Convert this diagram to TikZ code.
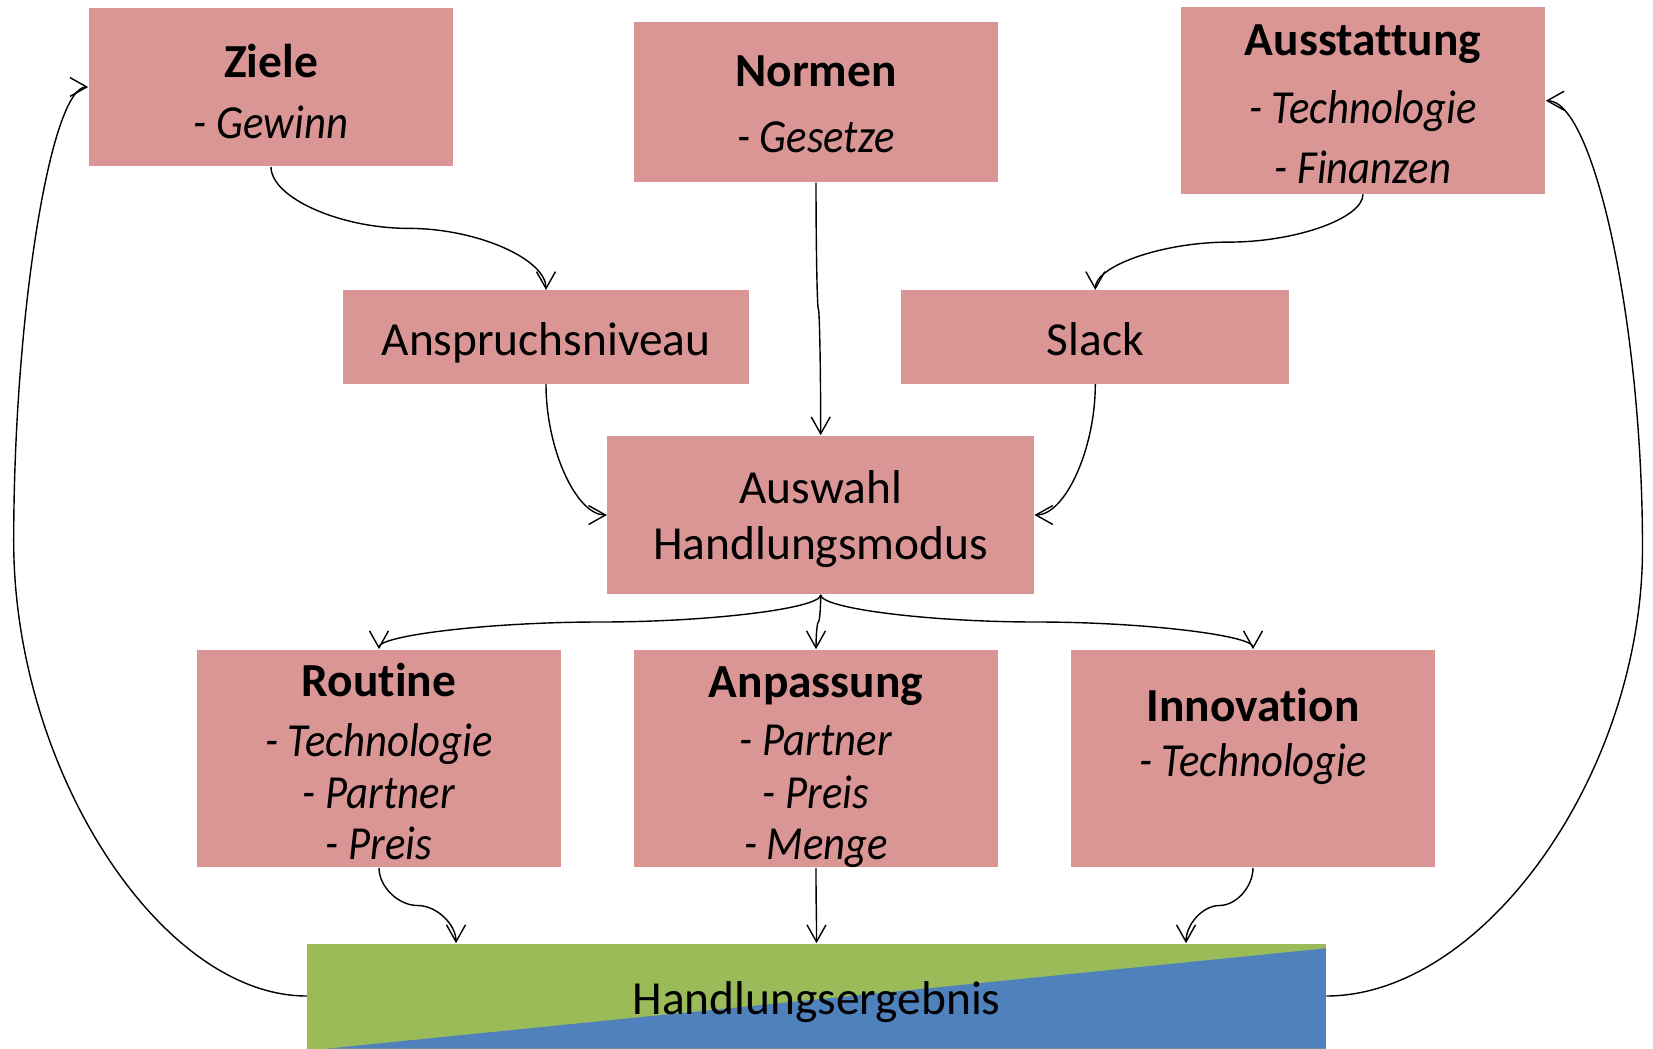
\documentclass[tikz,border=0pt]{standalone}
\usepackage{fontspec}
\setmainfont{Carlito}[Ligatures=CommonOff, ItalicFeatures={FakeStretch=0.9}]
\usetikzlibrary{arrows.meta,calc}
\definecolor{boxpink}{HTML}{D99694}
\definecolor{resgreen}{HTML}{9BBB59}
\definecolor{resblue}{HTML}{4F81BD}

\tikzset{
  box/.style={fill=boxpink, inner sep=0pt},
  boxtext/.style={align=center, inner sep=0pt, text depth=0pt,
                  font=\fontsize{27}{30}\selectfont},
  link/.style={draw=black, line width=0.8pt,
               -{Straight Barb[length=9.6pt,width=10.8pt]}},
}

% S-shaped link: leaves and enters vertically
\newcommand\vlink[2]{%
  \path ($(#1)!.25!(#2)$) coordinate (va) ($(#1)!.5!(#2)$) coordinate (vm)
        ($(#1)!.75!(#2)$) coordinate (vb);
  \draw[link] (#1) .. controls (#1 |- va) and (va |- vm) .. (vm)
                   .. controls (vb |- vm) and (#2 |- vb) .. (#2);}

% elbow link: leaves vertically, enters horizontally
\newcommand\elink[2]{%
  \path ($(#1)!.5!(#2)$) coordinate (em);
  \draw[link] (#1) .. controls (#1 |- em) and (em |- #2) .. (#2);}

% feedback loop: side to side, bulging out to the x of #3
\newcommand\hloop[3]{%
  \path ($(#1)!.25!(#2)$) coordinate (ha) ($(#1)!.5!(#2)$) coordinate (hm)
        ($(#1)!.75!(#2)$) coordinate (hb) (#3 |- hm) coordinate (hx)
        ($(#1)!.5!(#1 -| #3)$) coordinate (h1) ($(#2)!.5!(#2 -| #3)$) coordinate (h2);
  \draw[link] (#1) .. controls (h1) and (hx |- ha) .. (hx)
                   .. controls (hx |- hb) and (h2) .. (#2);}

\begin{document}
\begin{tikzpicture}[x=0.02cm,y=-0.02cm]
\useasboundingbox (0,0) rectangle (1653,1048);

% top row
\node[box, minimum width=7.3cm, minimum height=3.18cm,
      label={[boxtext, yshift=-2.4pt]center:{\textbf{Ziele}\\[5pt]\textit{- Gewinn}}}]
  (zi) at (271,87) {};
\node[box, minimum width=7.3cm, minimum height=3.2cm,
      label={[boxtext, yshift=-1.2pt]center:{\textbf{Normen}\\[7.6pt]\textit{- Gesetze}}}]
  (no) at (816,102.2) {};
\node[box, minimum width=7.3cm, minimum height=3.73cm,
      label={[boxtext, yshift=-1.8pt]center:{\textbf{Ausstattung}\\[8.6pt]\textit{- Technologie}\\[4.2pt]\textit{- Finanzen}}}]
  (au) at (1363,100.7) {};

% second row
\node[box, minimum width=8.14cm, minimum height=1.87cm,
      label={[boxtext, yshift=-1.2pt]center:Anspruchsniveau}] (an) at (546,337) {};
\node[box, minimum width=7.76cm, minimum height=1.87cm,
      label={[boxtext, yshift=-1.2pt]center:Slack}] (sl) at (1095.3,337) {};

% choice
\node[box, minimum width=8.54cm, minimum height=3.18cm,
      label={[boxtext]center:{Auswahl\\[2.3pt]Handlungsmodus}}] (hm) at (820.7,515) {};

% modes
\node[box, minimum width=7.27cm, minimum height=4.36cm,
      label={[boxtext, yshift=-1.5pt]center:{\textbf{Routine}\\[4.5pt]\textit{- Technologie}\\[-0.5pt]\textit{- Partner}\\[-1.3pt]\textit{- Preis}}}]
  (ro) at (379,758.5) {};
\node[box, minimum width=7.3cm, minimum height=4.36cm,
      label={[boxtext, yshift=-2.4pt]center:{\textbf{Anpassung}\\[3.5pt]\textit{- Partner}\\\textit{- Preis}\\[-1.3pt]\textit{- Menge}}}]
  (ap) at (816,758.5) {};
\node[box, minimum width=7.28cm, minimum height=4.36cm,
      label={[boxtext]center:{\textbf{Innovation}\\[1pt]\textit{- Technologie}\\\mbox{}}}]
  (in) at (1253,758.5) {};

% result bar, split green / blue along a diagonal
\node[fill=resgreen, inner sep=0pt, minimum width=20.38cm, minimum height=2.1cm,
      path picture={\fill[resblue]
        ($(path picture bounding box.south west)+(21,0)$)
        -- (path picture bounding box.south east)
        -- ($(path picture bounding box.north east)+(0,4.8)$) -- cycle;},
      label={[boxtext, yshift=-1.2pt]center:Handlungsergebnis}]
  (res) at (816.5,996) {};

\coordinate (r1) at ($(res.north)+(-360.5,0)$);
\coordinate (r3) at ($(res.north)+(369.5,0)$);
\coordinate (lx) at (13.7,0);
\coordinate (rx) at (1642.5,0);

% connectors
\vlink{zi.south}{an.north}
\vlink{no.south}{hm.north}
\vlink{au.south}{sl.north}
\elink{an.south}{hm.west}
\elink{sl.south}{hm.east}
\vlink{hm.south}{ro.north}
\vlink{hm.south}{ap.north}
\vlink{hm.south}{in.north}
\vlink{ro.south}{r1}
\vlink{ap.south}{res.north}
\vlink{in.south}{r3}
\hloop{res.west}{zi.west}{lx}
\hloop{res.east}{au.east}{rx}
\end{tikzpicture}
\end{document}
